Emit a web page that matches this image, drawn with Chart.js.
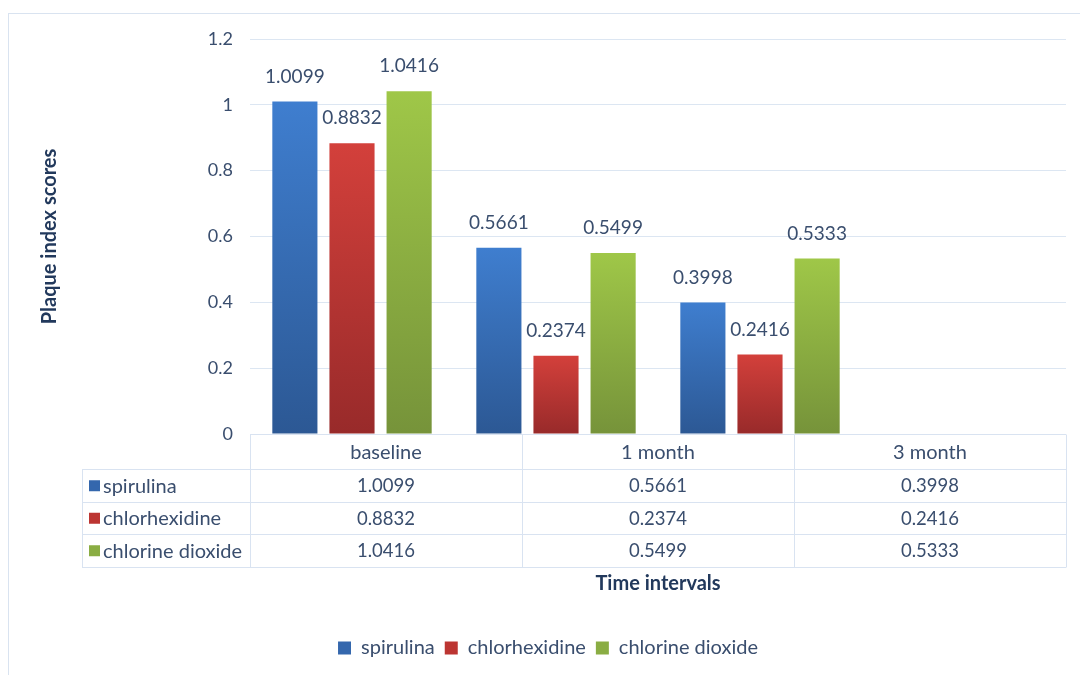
<!DOCTYPE html>
<html>
<head>
<meta charset="utf-8">
<script src="https://cdn.jsdelivr.net/npm/chart.js@4.4.0/dist/chart.umd.min.js"></script>
<style>
  html, body { margin: 0; padding: 0; background: #fff; overflow: hidden; }
  #wrap { position: relative; width: 1080px; height: 675px; overflow: hidden; }
  #frame { position: absolute; left: 8px; top: 13px; width: 1100px; height: 700px; border: 1px solid #d9e3f0; }
  canvas { position: absolute; left: 0; top: 0; }
</style>
</head>
<body>
<div id="wrap">
  <div id="frame"></div>
  <canvas id="chart" width="1080" height="675"></canvas>
</div>
<script>
// --- DATA ---
const categories = ['baseline', '1 month', '3 month'];
const seriesNames = ['spirulina', 'chlorhexidine', 'chlorine dioxide'];
const spirulina = [1.0099, 0.5661, 0.3998];
const chlorhexidine = [0.8832, 0.2374, 0.2416];
const chlorineDioxide = [1.0416, 0.5499, 0.5333];
const yTickLabels = ['0', '0.2', '0.4', '0.6', '0.8', '1', '1.2'];

// --- STYLE ---
const textColor = '#3a4e6e';
const titleColor = '#22395c';
const lineColor = '#d9e3f1';
const fontFamily = 'Lato, "Open Sans", sans-serif';
const seriesColors = [
    { top: '#3f7ecf', bottom: '#2c5894', solid: '#3467ad' },
    { top: '#d3403b', bottom: '#982a2a', solid: '#bc3532' },
    { top: '#9fc748', bottom: '#76933a', solid: '#8aad43' }
];

// per-bar vertical gradient
function barFill(i) {
    return (c) => {
        const chart = c.chart;
        const y = chart.scales.y;
        if (!chart.chartArea || !y || c.raw == null) return seriesColors[i].solid;
        const top = y.getPixelForValue(c.raw);
        const base = y.getPixelForValue(0);
        const g = chart.ctx.createLinearGradient(0, top, 0, base);
        g.addColorStop(0, seriesColors[i].top);
        g.addColorStop(1, seriesColors[i].bottom);
        return g;
    };
}

// --- VALUE LABELS ---
const valueLabels = {
    id: 'valueLabels',
    afterDatasetsDraw(chart) {
        const ctx = chart.ctx;
        ctx.save();
        ctx.font = '19px ' + fontFamily;
        ctx.fillStyle = textColor;
        ctx.textAlign = 'center';
        ctx.textBaseline = 'middle';
        chart.data.datasets.forEach((ds, i) => {
            chart.getDatasetMeta(i).data.forEach((bar, j) => {
                if (ds.data[j] == null) return;
                ctx.fillText(ds.data[j].toFixed(4), bar.x, bar.y - 25);
            });
        });
        ctx.restore();
    }
};

// --- DATA TABLE UNDER THE PLOT ---
const dataTable = {
    id: 'dataTable',
    afterDraw(chart) {
        const ctx = chart.ctx;
        const area = chart.chartArea;
        const colW = (area.right - area.left) / categories.length;
        const headerH = 35;
        const rowH = 32.5;
        const tableLeft = 82;
        const top = area.bottom;
        const bottom = top + headerH + rowH * seriesNames.length;
        const px = (v) => Math.round(v) + 0.5;

        ctx.save();
        ctx.strokeStyle = lineColor;
        ctx.lineWidth = 1;
        ctx.beginPath();
        ctx.moveTo(area.left, px(top));
        ctx.lineTo(area.right, px(top));
        for (let r = 0; r <= seriesNames.length; r++) {
            const y = px(top + headerH + r * rowH);
            ctx.moveTo(tableLeft, y);
            ctx.lineTo(area.right, y);
        }
        ctx.moveTo(px(tableLeft), px(top + headerH));
        ctx.lineTo(px(tableLeft), px(bottom));
        for (let k = 0; k <= categories.length; k++) {
            const x = px(area.left + k * colW);
            ctx.moveTo(x, px(top));
            ctx.lineTo(x, px(bottom));
        }
        ctx.stroke();

        ctx.fillStyle = textColor;
        ctx.textBaseline = 'middle';
        ctx.textAlign = 'center';
        ctx.font = '20px ' + fontFamily;
        categories.forEach((cat, k) => {
            ctx.fillText(cat, area.left + (k + 0.5) * colW, top + headerH / 2 + 1);
        });
        chart.data.datasets.forEach((ds, i) => {
            const yMid = top + headerH + (i + 0.5) * rowH + 1;
            ctx.fillStyle = seriesColors[i].solid;
            ctx.fillRect(tableLeft + 7, yMid - 6, 11, 11);
            ctx.fillStyle = textColor;
            ctx.textAlign = 'left';
            ctx.font = '20px ' + fontFamily;
            ctx.fillText(ds.label, tableLeft + 21, yMid);
            ctx.textAlign = 'center';
            ctx.font = '18.5px ' + fontFamily;
            ds.data.forEach((v, k) => {
                ctx.fillText(v.toFixed(4), area.left + (k + 0.5) * colW, yMid);
            });
        });
        ctx.restore();
    }
};

// --- CHART ---
const seriesValues = [spirulina, chlorhexidine, chlorineDioxide];
const ctx = document.getElementById('chart').getContext('2d');

new Chart(ctx, {
    type: 'bar',
    data: {
        // one empty slot after the last group, as in the original layout
        labels: [...categories, ''],
        datasets: seriesNames.map((name, i) => ({
            label: name,
            data: seriesValues[i],
            backgroundColor: barFill(i),
            borderWidth: 0,
            barPercentage: 0.79,
            categoryPercentage: 0.84
        }))
    },
    options: {
        responsive: false,
        animation: false,
        layout: { padding: { top: 39, right: 14, bottom: 7, left: 30 } },
        scales: {
            x: {
                grid: { display: false },
                border: { display: false },
                ticks: { display: false },
                title: {
                    display: true,
                    text: 'Time intervals',
                    color: titleColor,
                    font: { family: fontFamily, size: 20, weight: 'bold' },
                    padding: { top: 0, bottom: 32 }
                },
                afterFit: (s) => { s.height = 194; }
            },
            y: {
                min: 0,
                max: 1.2,
                ticks: {
                    stepSize: 0.2,
                    padding: 17,
                    color: textColor,
                    font: { family: fontFamily, size: 18 },
                    callback: (v, i) => yTickLabels[i]
                },
                grid: { color: '#dce6f2', drawTicks: false },
                border: { display: false },
                title: {
                    display: true,
                    text: 'Plaque index scores',
                    color: titleColor,
                    font: { family: fontFamily, size: 20, weight: 'bold' },
                    padding: { top: 8, bottom: 0 }
                },
                afterFit: (s) => { s.width = 220; }
            }
        },
        plugins: {
            tooltip: { enabled: false },
            legend: {
                position: 'bottom',
                labels: {
                    boxWidth: 13,
                    boxHeight: 13,
                    padding: 10,
                    color: textColor,
                    font: { family: fontFamily, size: 20 },
                    generateLabels: (chart) => Chart.defaults.plugins.legend.labels.generateLabels(chart)
                        .map((item, i) => Object.assign(item, { fillStyle: seriesColors[i].solid, strokeStyle: seriesColors[i].solid, lineWidth: 0 }))
                }
            }
        }
    },
    plugins: [valueLabels, dataTable]
});
</script>
</body>
</html>
